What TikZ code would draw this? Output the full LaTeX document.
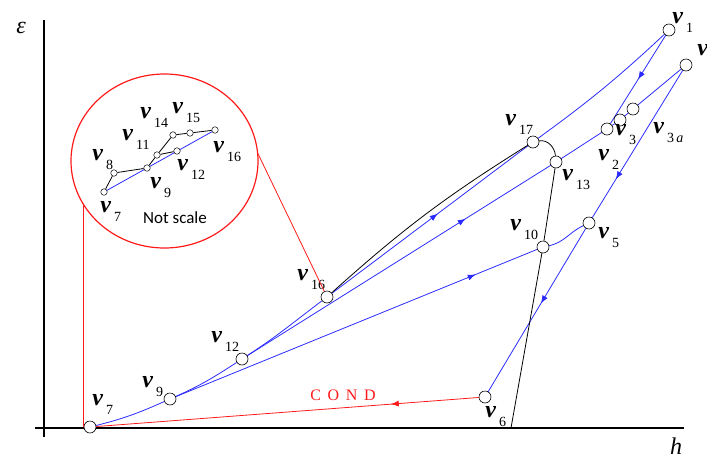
\documentclass[tikz,border=0pt]{standalone}
\usepackage{fontspec}
\setmainfont{Liberation Serif}
\newfontfamily\notefont{Carlito}
\newfontfamily\condfont[LetterSpace=42]{Liberation Serif}
\usetikzlibrary{arrows.meta, shapes.geometric, decorations.markings, backgrounds}
\definecolor{cblue}{HTML}{2B2BFF}
\definecolor{cred}{HTML}{FF1A1A}
\tikzset{
  every picture/.style={line width=0.8pt},
  pt/.style={circle, draw=black, fill=white, minimum size=12pt, inner sep=0pt, line width=0.6pt},
  ptsmall/.style={circle, draw=black, fill=white, minimum size=6.5pt, inner sep=0pt, line width=0.5pt},
  bline/.style={color=cblue, line width=0.8pt},
  kline/.style={color=black, line width=0.8pt},
  rline/.style={color=cred, line width=0.8pt},
  axis/.style={color=black, line width=1.6pt},
  flow/.style={postaction={decorate}, decoration={markings, mark=at position #1 with {\arrow{Latex[length=8pt,width=6pt]}}}},
  vlab/.style={anchor=base west, inner sep=0pt},
  axlab/.style={font=\fontsize{24}{24}\selectfont\itshape, inner sep=0pt},
}
\newcommand{\vv}[1]{{\fontsize{24}{24}\selectfont\bfseries\itshape v}\hspace{3pt}\raisebox{-9pt}{\fontsize{14}{14}\selectfont #1}}

\begin{document}
\begin{tikzpicture}[x=1pt, y=1pt]
  \useasboundingbox (0,0) rectangle (707,-461);
  % ---------- axes ----------
  \coordinate (ytop) at (44,-20);
  \coordinate (ybot) at (44,-437);
  \coordinate (xl) at (35,-428);
  \coordinate (xr) at (684,-428);
  \draw[axis] (ytop) -- (ybot);
  \draw[axis] (xl) -- (xr);
  \node[axlab] (eps) at (21,-28) {ε};
  \node[axlab] (hh) at (676,-446) {h};
  % ---------- state points ----------
  \foreach \n/\x/\y in {1/669/30, top/686/65, 2/607/129, 3/620/120, 3a/633/109, 17/533/142, 13/556/162,
                        5/589/223, 10/543/247, 6/485/397, 7/90/427, 9/170/399, 12/242/359, 16/327/297}
    \node[pt] (v\n) at (\x,-\y) {};
  \coordinate (satfoot) at (511,-428);
  \foreach \n/\x/\y in {1/672/23, 2/598/160, 3/615/135, 17/505/125, 13/562/180, 10/510/230,
                        5/598/238, 6/485/417, 7/92/405, 9/142/387, 12/211/342, 16/297/280}
    \node[vlab] (l\n) at (\x,-\y) {\vv{\n}};
  \node[vlab] (l3a) at (653,-133) {\vv{3\,\textit{a}}};
  \node[vlab] (ltop) at (697,-55) {\vv{}};
  \node[font=\condfont\fontsize{16}{16}\selectfont, text=cred, inner sep=0pt] (cond) at (343,-395) {COND};
  % ---------- cycle lines ----------
  \begin{scope}[on background layer]
    \draw[bline] (v7) to[out=14,in=204] (v9) to[out=24,in=213] (v12) to[out=33,in=217] (v16);
    \draw[bline, flow=0.54] (v16) -- (v17);
    \draw[bline] (v17) to[out=36,in=223] (v1);
    \draw[bline, flow=0.5] (v1) -- (v2);
    \draw[bline] (v13) -- (v2) -- (v3) -- (v3a) -- (vtop);
    \draw[bline, flow=0.74] (vtop) -- (v5);
    \draw[bline] (v10) to[out=12,in=205] (v5);
    \draw[bline, flow=0.46] (v5) -- (v6);
    \draw[bline, flow=0.83] (v9) -- (v10);
    \draw[bline, flow=0.72] (v12) -- (v13);
    \draw[rline, flow=0.23] (v6) -- (v7);
    \draw[kline] (v16) to[bend left=5] (v17);
    \draw[kline] (v17) to[out=10,in=95] (v13);
    \draw[kline] (v13) -- (v10) -- (satfoot);
  \end{scope}
  % ---------- zoomed inset ----------
  \node[ellipse, draw=cred, line width=1.2pt, minimum width=187pt, minimum height=174pt, outer sep=0pt] (zoom) at (164.5,-161) {};
  \coordinate (foot) at (83,-427);
  \draw[rline] (foot) -- (foot |- zoom.208);
  \draw[rline] (zoom.5) -- (v16);
  \foreach \n/\x/\y in {7/104/192, 8/114/173, 9/147/168, 11/157/155, 12/177/151, 14/173/135, 15/190/133, 16/215/130}
    \node[ptsmall] (i\n) at (\x,-\y) {};
  \begin{scope}[on background layer]
    \draw[bline] (i7) -- (i16);
    \draw[kline] (i7) -- (i8) -- (i9) -- (i11) -- (i14) -- (i15) -- (i16);
    \draw[kline] (i11) -- (i12);
  \end{scope}
  \foreach \n/\x/\y in {8/92/160, 11/122/140, 14/140/118, 15/172/113, 16/213/152, 12/177/170, 9/150/188, 7/100/212}
    \node[vlab] (k\n) at (\x,-\y) {\vv{\n}};
  \node[font=\notefont\fontsize{17}{17}\selectfont, inner sep=0pt] (ns) at (175,-218) {Not scale};
\end{tikzpicture}
\end{document}
